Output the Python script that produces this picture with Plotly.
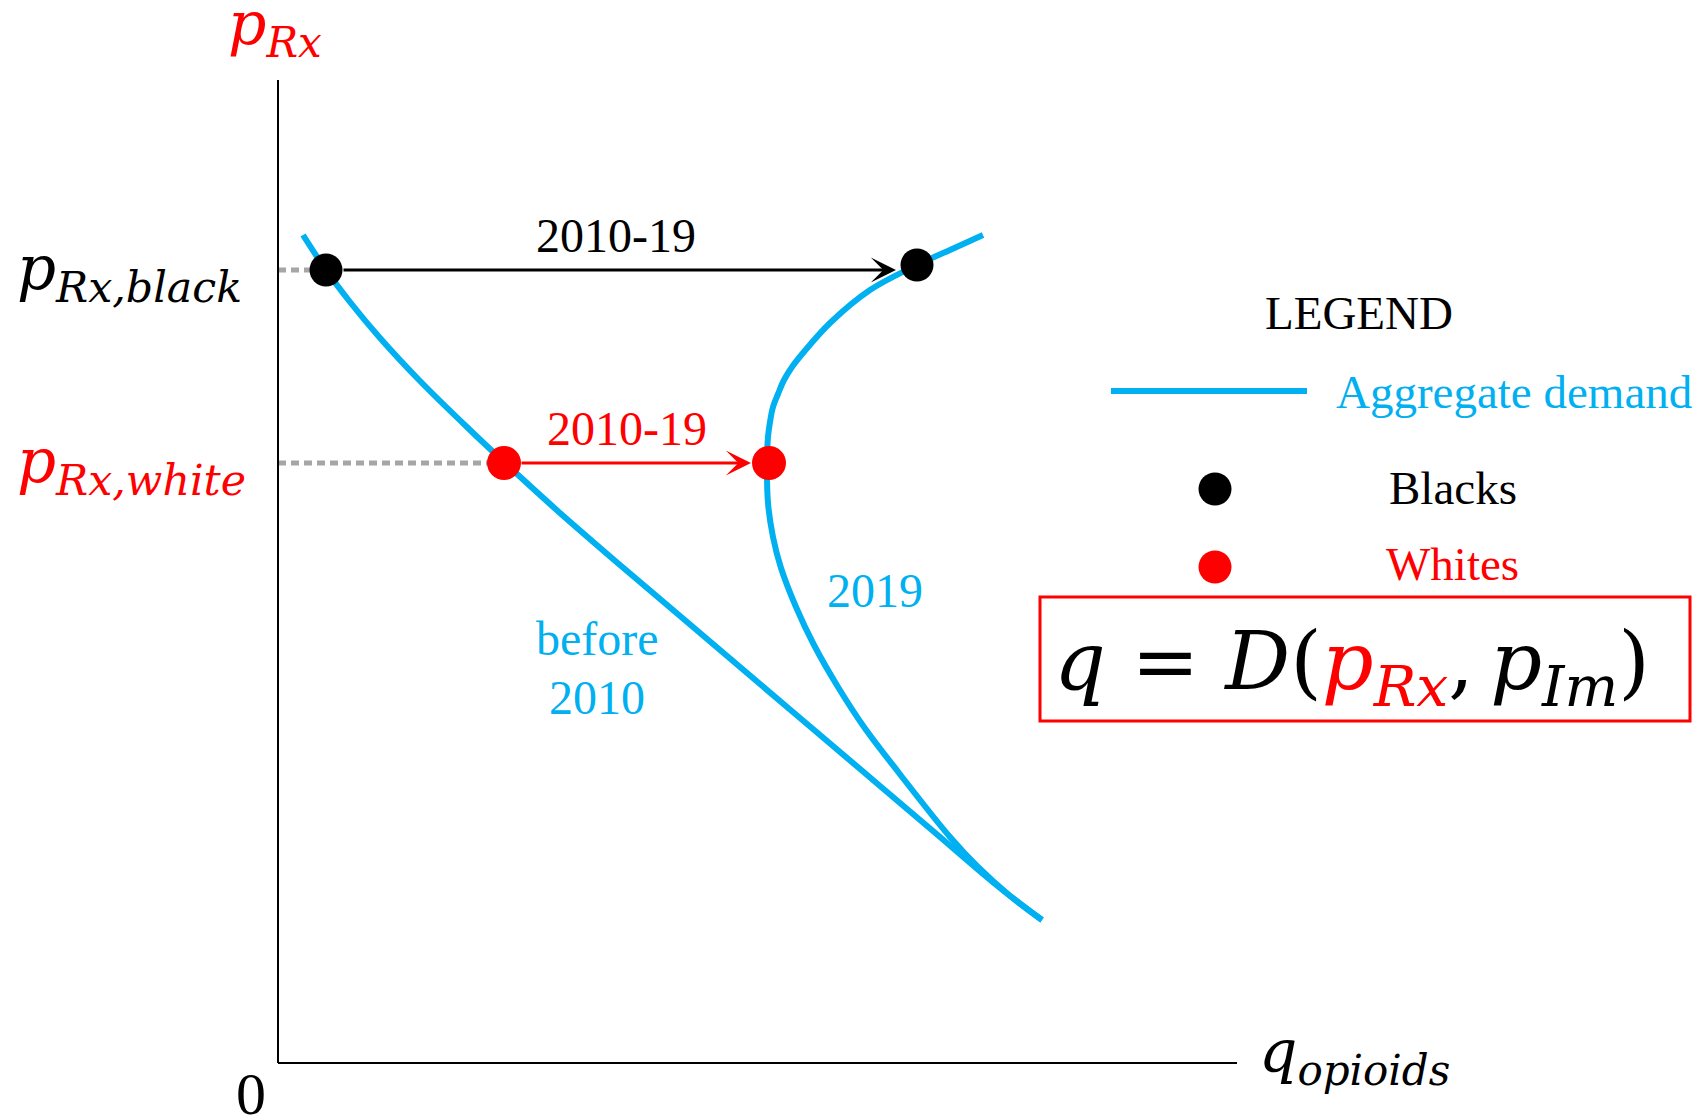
import plotly.graph_objects as go

# ---------------- data (abstract units; origin at the axes corner) ----------------
# "before 2010" aggregate demand curve
before_q = [0.25, 0.48, 0.72, 1.02, 1.42, 1.92, 2.26, 2.82, 3.42, 4.15, 4.82, 5.55,
            6.02, 6.55, 7.22, 7.64]
before_p = [8.28, 7.93, 7.61, 7.25, 6.82, 6.33, 6.01, 5.50, 4.98, 4.36, 3.79, 3.17,
            2.77, 2.32, 1.75, 1.43]

# "2019" aggregate demand curve
d2019_q = [7.05, 6.72, 6.39, 5.92, 5.52, 5.25, 5.14, 5.06, 5.00, 4.95, 4.92, 4.90,
           4.89, 4.90, 4.95, 5.03, 5.18, 5.36, 5.60, 5.86, 6.21, 6.72, 7.00, 7.31, 7.64]
d2019_p = [8.28, 8.13, 7.98, 7.73, 7.40, 7.10, 6.96, 6.83, 6.69, 6.56, 6.41, 6.26,
           6.00, 5.60, 5.26, 4.95, 4.56, 4.18, 3.76, 3.36, 2.90, 2.26, 1.96, 1.68, 1.43]

# equilibrium points (before 2010 -> 2019)
black_q = [0.48, 6.39]
black_p = [7.93, 7.98]
white_q = [2.26, 4.91]
white_p = [6.00, 6.00]

# axis extents
Q_MAX = 9.59
P_MAX = 9.83

# ---------------- styles ----------------
BLUE = "#00B0F0"
RED = "#FF0000"
GREY = "#A6A6A6"
SERIF = "Liberation Serif"
MATH = "DejaVu Serif"

fig = go.Figure()

# dotted reference lines to the price axis
fig.add_trace(go.Scatter(x=[0, black_q[0]], y=[black_p[0], black_p[0]], mode="lines",
                         line=dict(color=GREY, width=5, dash="8px,5px"), hoverinfo="skip"))
fig.add_trace(go.Scatter(x=[0, white_q[0]], y=[white_p[0], white_p[0]], mode="lines",
                         line=dict(color=GREY, width=5, dash="8px,5px"), hoverinfo="skip"))

# demand curves
fig.add_trace(go.Scatter(x=before_q, y=before_p, mode="lines", name="before 2010",
                         line=dict(color=BLUE, width=6, shape="spline", smoothing=1.0)))
fig.add_trace(go.Scatter(x=d2019_q, y=d2019_p, mode="lines", name="2019",
                         line=dict(color=BLUE, width=6, shape="spline", smoothing=1.0)))

# points
fig.add_trace(go.Scatter(x=black_q, y=black_p, mode="markers", name="Blacks",
                         marker=dict(color="black", size=33, line=dict(width=0))))
fig.add_trace(go.Scatter(x=white_q, y=white_p, mode="markers", name="Whites",
                         marker=dict(color=RED, size=34, line=dict(width=0))))

# legend samples (drawn manually)
LEG_LINE_Q = [8.33, 10.29]
LEG_LINE_P = 6.72
LEG_DOT_Q = 9.37
LEG_BLACK_P = 5.74
LEG_WHITE_P = 4.96
fig.add_trace(go.Scatter(x=LEG_LINE_Q, y=[LEG_LINE_P, LEG_LINE_P], mode="lines",
                         line=dict(color=BLUE, width=6), hoverinfo="skip"))
fig.add_trace(go.Scatter(x=[LEG_DOT_Q], y=[LEG_BLACK_P], mode="markers",
                         marker=dict(color="black", size=33, line=dict(width=0)), hoverinfo="skip"))
fig.add_trace(go.Scatter(x=[LEG_DOT_Q], y=[LEG_WHITE_P], mode="markers",
                         marker=dict(color=RED, size=33, line=dict(width=0)), hoverinfo="skip"))

# axes
fig.add_shape(type="line", x0=0, y0=0, x1=0, y1=P_MAX, line=dict(color="black", width=2))
fig.add_shape(type="line", x0=0, y0=0, x1=Q_MAX, y1=0, line=dict(color="black", width=2))

# formula box
fig.add_shape(type="rect", x0=7.62, y0=3.42, x1=14.12, y1=4.66,
              line=dict(color=RED, width=3), fillcolor="rgba(0,0,0,0)")

ann = []
# shift arrows
ann.append(dict(x=black_q[1], y=black_p[0], ax=black_q[0], ay=black_p[0], xref="x", yref="y",
                axref="x", ayref="y", text="", showarrow=True, arrowhead=3, arrowsize=1.4,
                arrowwidth=3, arrowcolor="black", standoff=21, startstandoff=16))
ann.append(dict(x=white_q[1], y=white_p[0], ax=white_q[0], ay=white_p[0], xref="x", yref="y",
                axref="x", ayref="y", text="", showarrow=True, arrowhead=3, arrowsize=1.4,
                arrowwidth=3, arrowcolor=RED, standoff=18, startstandoff=16))


def txt(x, y, text, size, color="black", family=SERIF, style="normal", xanchor="center"):
    ann.append(dict(x=x, y=y, xref="x", yref="y", text=text, showarrow=False,
                    xanchor=xanchor, yanchor="middle",
                    font=dict(family=family, size=size, color=color, style=style)))


txt(3.38, 8.28, "2010-19", 48, "black")
txt(3.49, 6.35, "2010-19", 48, RED)
txt(3.19, 4.25, "before", 48, BLUE)
txt(3.19, 3.66, "2010", 48, BLUE)
txt(5.97, 4.73, "2019", 48, BLUE)

# axis labels
txt(-0.03, 10.36, "p<sub>Rx</sub>", 60, RED, MATH, "italic")
txt(-2.63, 7.91, "p<sub>Rx,black</sub>", 61, "black", MATH, "italic", "left")
txt(-2.63, 5.98, "p<sub>Rx,white</sub>", 61, RED, MATH, "italic", "left")
txt(9.79, 0.08, "q<sub>opioids</sub>", 60, "black", MATH, "italic", "left")
txt(-0.27, -0.31, "0", 60, "black")

# legend texts
txt(10.81, 7.50, "LEGEND", 47, "black")
txt(10.56, 6.71, "Aggregate demand", 47, BLUE, xanchor="left")
txt(11.75, 5.75, "Blacks", 47, "black")
txt(11.74, 4.99, "Whites", 47, RED)

# formula
txt(10.74, 3.97,
    "<i>q</i> = <i>D</i>(<span style='color:#FF0000'><i>p</i><sub><i>Rx</i></sub></span>,\u2009"
    "<i>p</i><sub><i>Im</i></sub>)", 81, "black", MATH)

fig.update_layout(
    width=1708, height=1119,
    margin=dict(l=0, r=0, t=0, b=0),
    paper_bgcolor="white", plot_bgcolor="white",
    showlegend=False,
    xaxis=dict(range=[-2.78, 14.30], visible=False, fixedrange=True),
    yaxis=dict(range=[-0.56, 10.63], visible=False, fixedrange=True),
    annotations=ann,
)

fig.write_html("out.html", config={"displayModeBar": False},
               post_script="document.body.style.margin='0px';document.body.style.overflow='hidden';")
